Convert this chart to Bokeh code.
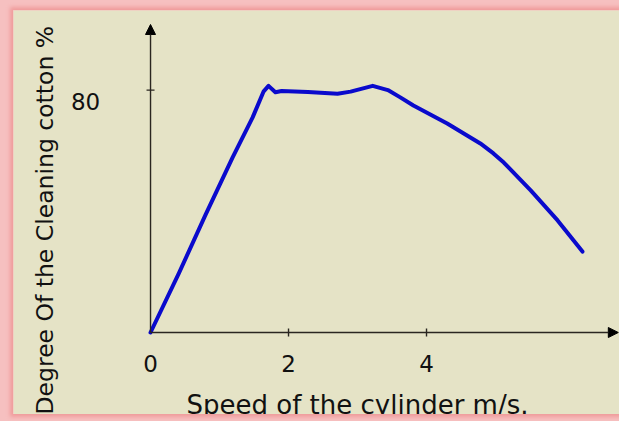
import math
from bokeh.plotting import figure
from bokeh.models import Arrow, NormalHead, Range1d
from bokeh.layouts import column
from bokeh.embed import file_html
from bokeh.resources import INLINE
from bokeh.core.properties import value

# ---- data ----
speed = [0.0, 0.41, 0.80, 1.19, 1.48, 1.64, 1.71, 1.81, 1.90, 2.28, 2.71,
         2.90, 3.22, 3.44, 3.62, 3.81, 4.30, 4.78, 4.97, 5.12, 5.51, 5.90, 6.26]
cleaning = [0.0, 19.5, 39.0, 57.8, 71.0, 79.6, 81.4, 79.3, 79.7, 79.4, 78.8,
            79.5, 81.4, 80.0, 77.6, 74.9, 69.0, 62.4, 59.1, 56.1, 46.9, 37.0, 26.7]
x_ticks = [0, 2, 4]
x_tick_labels = ["0", "2", "4"]
y_ticks = [80]
y_tick_labels = ["80"]
x_title = "Speed of the cylinder m/s."
y_title = "Degree Of  the Cleaning cotton %"

BEIGE = "#E5E3C6"
PINK = "#F6C0C0"
FONT = "DejaVu Sans"
AXIS = "#2a2620"

# plot area covers the whole canvas; axes are drawn at the data origin
p = figure(width=606, height=404,
           x_range=Range1d(-1.986, 6.797), y_range=Range1d(-27.06, 106.27),
           output_backend="svg", toolbar_location=None,
           x_axis_location=None, y_axis_location=None,
           min_border=0, background_fill_color=BEIGE, border_fill_color=BEIGE)
p.outline_line_color = None
p.grid.visible = False
p.styles = {"box-shadow": "0 0 4px 3px #F09C9C"}

x_axis_end = 6.78
y_axis_end = 101.65

# axis lines with arrow heads
p.add_layout(Arrow(end=NormalHead(size=10, fill_color="black", line_color="black"),
                   x_start=0, y_start=0, x_end=x_axis_end, y_end=0,
                   line_color=AXIS, line_width=1.4))
p.add_layout(Arrow(end=NormalHead(size=10, fill_color="black", line_color="black"),
                   x_start=0, y_start=0, x_end=0, y_end=y_axis_end,
                   line_color=AXIS, line_width=1.4))

# tick marks
xt = [t for t in x_ticks if t > 0]
p.scatter(x=xt, y=[0] * len(xt), marker="dash", size=8, angle=math.pi / 2,
          line_color=AXIS, line_width=1.4)
p.scatter(x=[0] * len(y_ticks), y=y_ticks, marker="dash", size=8,
          line_color=AXIS, line_width=1.4)

# curve
p.line(speed, cleaning, line_color="#0A0ACC", line_width=4,
       line_join="round", line_cap="round")

# tick labels
p.text(x=x_ticks, y=[0] * len(x_ticks), text=x_tick_labels, y_offset=31,
       text_align="center", text_baseline="alphabetic",
       text_font=value(FONT), text_font_size="23px", text_color="#111111")
p.text(x=[0] * len(y_ticks), y=y_ticks, text=y_tick_labels, x_offset=-65, y_offset=11,
       text_align="center", text_baseline="alphabetic",
       text_font=value(FONT), text_font_size="23px", text_color="#111111")

# axis titles
p.text(x=[3.0], y=[-23.8], text=[x_title], text_align="center",
       text_baseline="alphabetic", text_font=value(FONT),
       text_font_size="26px", text_color="#111111")
p.text(x=[-1.536], y=[38.3], text=[y_title], angle=math.pi / 2, text_align="center",
       text_baseline="alphabetic", text_font=value(FONT),
       text_font_size="23.5px", text_color="#111111")

layout = column(p, styles={"background-color": PINK, "padding": "10px 0px 7px 13px"})

open("out.html", "w").write(file_html(layout, INLINE))
